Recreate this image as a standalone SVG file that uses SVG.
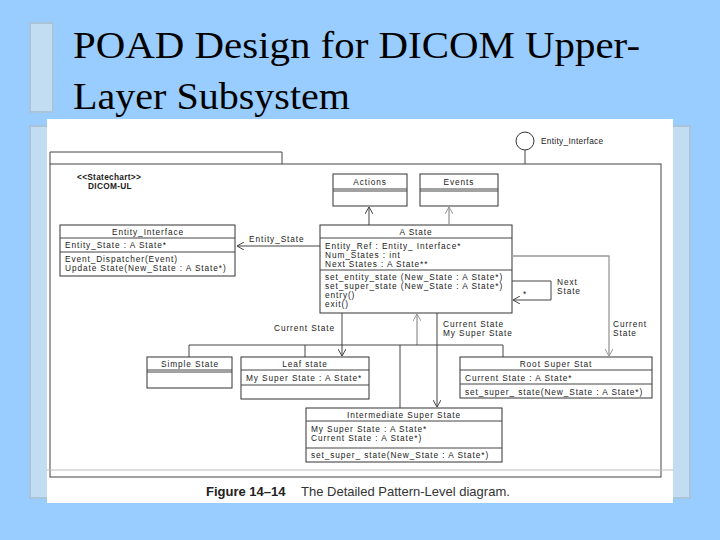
<svg xmlns="http://www.w3.org/2000/svg" width="720" height="540" viewBox="0 0 720 540">
<style>
.t{font-family:"Liberation Sans",Arial,sans-serif;font-size:8.3px;letter-spacing:0.9px;fill:#222}
.c{text-anchor:middle}
.b{fill:#fff;stroke:#333;stroke-width:1}
.l{fill:none;stroke:#444;stroke-width:1}
.g{fill:none;stroke:#999;stroke-width:1.3}
</style>
<defs>
<marker id="a" markerWidth="8" markerHeight="8" refX="7" refY="4" orient="auto" markerUnits="userSpaceOnUse"><path d="M0,0 L7,4 L0,8" fill="none" stroke="#444"/></marker>
<marker id="ag" markerWidth="8" markerHeight="8" refX="7" refY="4" orient="auto" markerUnits="userSpaceOnUse"><path d="M0,0 L7,4 L0,8" fill="none" stroke="#999"/></marker>
</defs>
<rect width="720" height="540" fill="#99CCFF"/>
<rect x="30" y="23" width="23" height="89" fill="#C2DDF2" stroke="#A9C4DA" stroke-width="2"/>
<rect x="30" y="126" width="660" height="372" fill="#C2DDF2" stroke="#A9C4DA" stroke-width="2"/>
<text x="73" y="58" font-family="Liberation Serif,serif" font-size="38" fill="#000" textLength="567" lengthAdjust="spacingAndGlyphs">POAD Design for DICOM Upper-</text>
<text x="73" y="109" font-family="Liberation Serif,serif" font-size="38" fill="#000" textLength="277" lengthAdjust="spacingAndGlyphs">Layer Subsystem</text>
<rect x="47" y="119" width="626" height="384" fill="#fff"/>
<g id="package">
<path d="M50,164 V152 H282 V164" class="l"/>
<rect x="50" y="164" width="611" height="313" class="l"/>
<text x="77" y="180" class="t" font-weight="bold" style="letter-spacing:0.3px">&lt;&lt;Statechart&gt;&gt;</text>
<text x="88" y="189" class="t" font-weight="bold" style="letter-spacing:0.3px">DICOM-UL</text>
</g>
<g id="iface">
<circle cx="525" cy="141" r="9" class="b" stroke="#555"/>
<line x1="525" y1="150" x2="525" y2="164" class="l"/>
<text x="541" y="144" class="t" style="letter-spacing:0.3px">Entity_Interface</text>
</g>
<g id="actions"><rect x="333" y="174" width="74" height="32" class="b"/><line x1="333" y1="189" x2="407" y2="189" class="l"/><line x1="333" y1="191" x2="407" y2="191" class="l"/><text x="370" y="185" class="t c">Actions</text></g>
<g id="events"><rect x="420" y="174" width="78" height="32" class="b"/><line x1="420" y1="189" x2="498" y2="189" class="l"/><line x1="420" y1="191" x2="498" y2="191" class="l"/><text x="459" y="185" class="t c">Events</text></g>
<g id="entity-interface">
<rect x="60" y="225" width="175" height="51" class="b"/>
<line x1="60" y1="238" x2="235" y2="238" class="l"/><line x1="60" y1="252" x2="235" y2="252" class="l"/>
<text x="148" y="235" class="t c">Entity_Interface</text>
<text x="65" y="248" class="t">Entity_State : A State*</text>
<text x="65" y="262" class="t">Event_Dispatcher(Event)</text>
<text x="65" y="271" class="t">Update State(New_State : A State*)</text>
</g>
<g id="a-state">
<rect x="320" y="225" width="192" height="88" class="b"/>
<line x1="320" y1="238" x2="512" y2="238" class="l"/><line x1="320" y1="270" x2="512" y2="270" class="l"/>
<text x="416" y="235" class="t c">A State</text>
<text x="325" y="249" class="t">Entity_Ref : Entity_ Interface*</text>
<text x="325" y="258" class="t">Num_States : int</text>
<text x="325" y="267" class="t">Next States : A State**</text>
<text x="325" y="280" class="t">set_entity_state (New_State : A State*)</text>
<text x="325" y="289" class="t">set_super_state (New_State : A State*)</text>
<text x="325" y="298" class="t">entry()</text>
<text x="325" y="307" class="t">exit()</text>
</g>
<g id="simple-state"><rect x="147" y="357" width="85" height="31" class="b"/><line x1="147" y1="370" x2="232" y2="370" class="l"/><line x1="147" y1="372" x2="232" y2="372" class="l"/><text x="190" y="367" class="t c">Simple State</text></g>
<g id="leaf-state"><rect x="241" y="357" width="128" height="42" class="b"/><line x1="241" y1="370" x2="369" y2="370" class="l"/><line x1="241" y1="385" x2="369" y2="385" class="l"/><text x="305" y="367" class="t c">Leaf state</text><text x="246" y="381" class="t">My Super State : A State*</text></g>
<g id="root-super"><rect x="460" y="357" width="192" height="41" class="b"/><line x1="460" y1="370" x2="652" y2="370" class="l"/><line x1="460" y1="384" x2="652" y2="384" class="l"/><text x="556" y="367" class="t c">Root Super Stat</text><text x="465" y="381" class="t">Current State : A State*</text><text x="465" y="395" class="t">set_super_ state(New_State : A State*)</text></g>
<g id="intermediate"><rect x="306" y="408" width="196" height="54" class="b"/><line x1="306" y1="421" x2="502" y2="421" class="l"/><line x1="306" y1="448" x2="502" y2="448" class="l"/><text x="404" y="418" class="t c">Intermediate Super State</text><text x="311" y="432" class="t">My Super State : A State*</text><text x="311" y="441" class="t">Current State : A State*)</text><text x="311" y="458" class="t">set_super_ state(New_State : A State*)</text></g>
<g id="connectors">
<line x1="369" y1="225" x2="369" y2="207" class="l" marker-end="url(#a)"/>
<line x1="449" y1="225" x2="449" y2="207" class="g" marker-end="url(#ag)"/>
<line x1="320" y1="246" x2="237" y2="246" class="l" marker-end="url(#a)"/>
<text x="249" y="242" class="t">Entity_State</text>
<polyline points="512,281 551,281 551,300 513,300" class="l" marker-end="url(#a)"/>
<text x="523" y="297" class="t">*</text>
<text x="557" y="285" class="t">Next</text><text x="557" y="294" class="t">State</text>
<polyline points="512,256 609,256 609,356" class="g" marker-end="url(#ag)"/>
<text x="613" y="327" class="t">Current</text><text x="613" y="336" class="t">State</text>
<line x1="342" y1="313" x2="342" y2="356" class="l" marker-end="url(#a)"/>
<text x="274" y="331" class="t">Current State</text>
<line x1="417" y1="345" x2="417" y2="314" class="g" marker-end="url(#ag)"/>
<polyline points="189,357 189,345 503,345 503,357" class="l"/>
<line x1="305" y1="345" x2="305" y2="357" class="l"/>
<line x1="400" y1="345" x2="400" y2="408" class="l"/>
<line x1="437" y1="313" x2="437" y2="407" class="l" marker-end="url(#a)"/>
<text x="443" y="327" class="t">Current State</text><text x="443" y="336" class="t">My Super State</text>
</g>
<line x1="47" y1="470" x2="673" y2="470" stroke="#bbb" stroke-width="1"/>
<text x="206" y="496" font-family="Liberation Sans,Arial,sans-serif" font-size="13" font-weight="bold" fill="#222">Figure 14–14</text>
<text x="301" y="496" font-family="Liberation Sans,Arial,sans-serif" font-size="13" fill="#333">The Detailed Pattern-Level diagram.</text>
</svg>
